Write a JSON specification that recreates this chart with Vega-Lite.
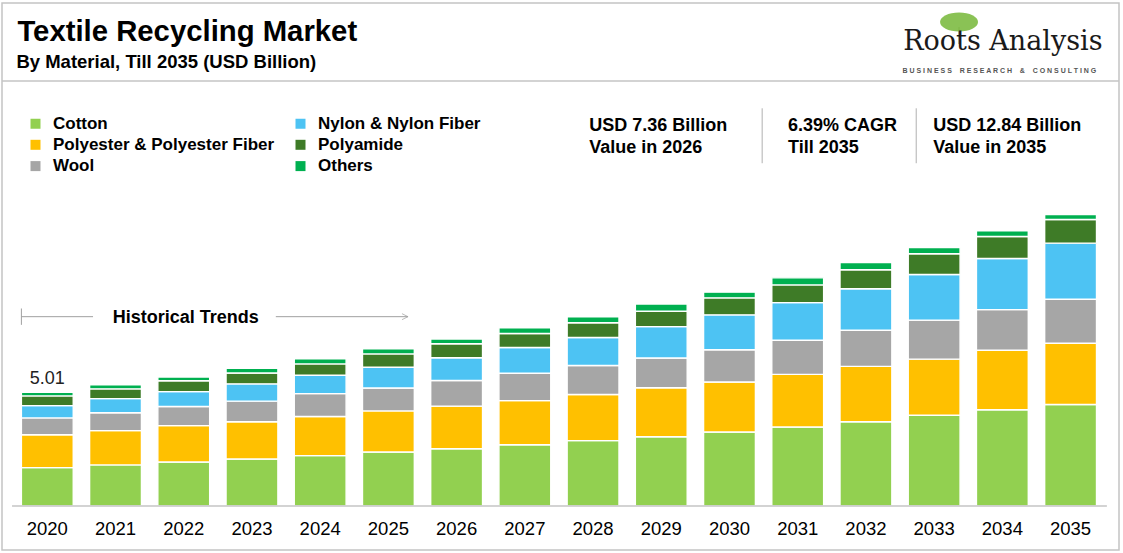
{
  "$schema": "https://vega.github.io/schema/vega-lite/v6.json",
  "width": 1117,
  "height": 547,
  "autosize": {"type": "none"},
  "padding": {"left": 2, "top": 3, "right": 4, "bottom": 3},
  "background": "white",
  "config": {
    "view": {"stroke": "#c4c4c4", "strokeWidth": 1.5},
    "font": "Liberation Sans",
    "text": {"font": "Liberation Sans", "color": "#000"}
  },
  "data": {
    "values": [
      {"year": "2020", "material": "Cotton", "k": 1, "value": 1.69},
      {"year": "2020", "material": "Polyester & Polyester Fiber", "k": 2, "value": 1.45},
      {"year": "2020", "material": "Wool", "k": 3, "value": 0.74},
      {"year": "2020", "material": "Nylon & Nylon Fiber", "k": 4, "value": 0.54},
      {"year": "2020", "material": "Polyamide", "k": 5, "value": 0.43},
      {"year": "2020", "material": "Others", "k": 6, "value": 0.16},
      {"year": "2021", "material": "Cotton", "k": 1, "value": 1.81},
      {"year": "2021", "material": "Polyester & Polyester Fiber", "k": 2, "value": 1.51},
      {"year": "2021", "material": "Wool", "k": 3, "value": 0.79},
      {"year": "2021", "material": "Nylon & Nylon Fiber", "k": 4, "value": 0.62},
      {"year": "2021", "material": "Polyamide", "k": 5, "value": 0.43},
      {"year": "2021", "material": "Others", "k": 6, "value": 0.18},
      {"year": "2022", "material": "Cotton", "k": 1, "value": 1.94},
      {"year": "2022", "material": "Polyester & Polyester Fiber", "k": 2, "value": 1.60},
      {"year": "2022", "material": "Wool", "k": 3, "value": 0.84},
      {"year": "2022", "material": "Nylon & Nylon Fiber", "k": 4, "value": 0.66},
      {"year": "2022", "material": "Polyamide", "k": 5, "value": 0.48},
      {"year": "2022", "material": "Others", "k": 6, "value": 0.16},
      {"year": "2023", "material": "Cotton", "k": 1, "value": 2.07},
      {"year": "2023", "material": "Polyester & Polyester Fiber", "k": 2, "value": 1.64},
      {"year": "2023", "material": "Wool", "k": 3, "value": 0.91},
      {"year": "2023", "material": "Nylon & Nylon Fiber", "k": 4, "value": 0.76},
      {"year": "2023", "material": "Polyamide", "k": 5, "value": 0.48},
      {"year": "2023", "material": "Others", "k": 6, "value": 0.21},
      {"year": "2024", "material": "Cotton", "k": 1, "value": 2.22},
      {"year": "2024", "material": "Polyester & Polyester Fiber", "k": 2, "value": 1.72},
      {"year": "2024", "material": "Wool", "k": 3, "value": 1.01},
      {"year": "2024", "material": "Nylon & Nylon Fiber", "k": 4, "value": 0.81},
      {"year": "2024", "material": "Polyamide", "k": 5, "value": 0.50},
      {"year": "2024", "material": "Others", "k": 6, "value": 0.22},
      {"year": "2025", "material": "Cotton", "k": 1, "value": 2.38},
      {"year": "2025", "material": "Polyester & Polyester Fiber", "k": 2, "value": 1.81},
      {"year": "2025", "material": "Wool", "k": 3, "value": 1.01},
      {"year": "2025", "material": "Nylon & Nylon Fiber", "k": 4, "value": 0.91},
      {"year": "2025", "material": "Polyamide", "k": 5, "value": 0.59},
      {"year": "2025", "material": "Others", "k": 6, "value": 0.22},
      {"year": "2026", "material": "Cotton", "k": 1, "value": 2.52},
      {"year": "2026", "material": "Polyester & Polyester Fiber", "k": 2, "value": 1.88},
      {"year": "2026", "material": "Wool", "k": 3, "value": 1.13},
      {"year": "2026", "material": "Nylon & Nylon Fiber", "k": 4, "value": 1.00},
      {"year": "2026", "material": "Polyamide", "k": 5, "value": 0.62},
      {"year": "2026", "material": "Others", "k": 6, "value": 0.21},
      {"year": "2027", "material": "Cotton", "k": 1, "value": 2.70},
      {"year": "2027", "material": "Polyester & Polyester Fiber", "k": 2, "value": 1.94},
      {"year": "2027", "material": "Wool", "k": 3, "value": 1.21},
      {"year": "2027", "material": "Nylon & Nylon Fiber", "k": 4, "value": 1.13},
      {"year": "2027", "material": "Polyamide", "k": 5, "value": 0.62},
      {"year": "2027", "material": "Others", "k": 6, "value": 0.25},
      {"year": "2028", "material": "Cotton", "k": 1, "value": 2.88},
      {"year": "2028", "material": "Polyester & Polyester Fiber", "k": 2, "value": 2.03},
      {"year": "2028", "material": "Wool", "k": 3, "value": 1.28},
      {"year": "2028", "material": "Nylon & Nylon Fiber", "k": 4, "value": 1.23},
      {"year": "2028", "material": "Polyamide", "k": 5, "value": 0.65},
      {"year": "2028", "material": "Others", "k": 6, "value": 0.26},
      {"year": "2029", "material": "Cotton", "k": 1, "value": 3.05},
      {"year": "2029", "material": "Polyester & Polyester Fiber", "k": 2, "value": 2.16},
      {"year": "2029", "material": "Wool", "k": 3, "value": 1.31},
      {"year": "2029", "material": "Nylon & Nylon Fiber", "k": 4, "value": 1.38},
      {"year": "2029", "material": "Polyamide", "k": 5, "value": 0.68},
      {"year": "2029", "material": "Others", "k": 6, "value": 0.32},
      {"year": "2030", "material": "Cotton", "k": 1, "value": 3.26},
      {"year": "2030", "material": "Polyester & Polyester Fiber", "k": 2, "value": 2.20},
      {"year": "2030", "material": "Wool", "k": 3, "value": 1.42},
      {"year": "2030", "material": "Nylon & Nylon Fiber", "k": 4, "value": 1.54},
      {"year": "2030", "material": "Polyamide", "k": 5, "value": 0.75},
      {"year": "2030", "material": "Others", "k": 6, "value": 0.25},
      {"year": "2031", "material": "Cotton", "k": 1, "value": 3.48},
      {"year": "2031", "material": "Polyester & Polyester Fiber", "k": 2, "value": 2.32},
      {"year": "2031", "material": "Wool", "k": 3, "value": 1.50},
      {"year": "2031", "material": "Nylon & Nylon Fiber", "k": 4, "value": 1.66},
      {"year": "2031", "material": "Polyamide", "k": 5, "value": 0.78},
      {"year": "2031", "material": "Others", "k": 6, "value": 0.31},
      {"year": "2032", "material": "Cotton", "k": 1, "value": 3.71},
      {"year": "2032", "material": "Polyester & Polyester Fiber", "k": 2, "value": 2.44},
      {"year": "2032", "material": "Wool", "k": 3, "value": 1.59},
      {"year": "2032", "material": "Nylon & Nylon Fiber", "k": 4, "value": 1.83},
      {"year": "2032", "material": "Polyamide", "k": 5, "value": 0.84},
      {"year": "2032", "material": "Others", "k": 6, "value": 0.31},
      {"year": "2033", "material": "Cotton", "k": 1, "value": 4.00},
      {"year": "2033", "material": "Polyester & Polyester Fiber", "k": 2, "value": 2.47},
      {"year": "2033", "material": "Wool", "k": 3, "value": 1.72},
      {"year": "2033", "material": "Nylon & Nylon Fiber", "k": 4, "value": 2.01},
      {"year": "2033", "material": "Polyamide", "k": 5, "value": 0.91},
      {"year": "2033", "material": "Others", "k": 6, "value": 0.28},
      {"year": "2034", "material": "Cotton", "k": 1, "value": 4.24},
      {"year": "2034", "material": "Polyester & Polyester Fiber", "k": 2, "value": 2.62},
      {"year": "2034", "material": "Wool", "k": 3, "value": 1.79},
      {"year": "2034", "material": "Nylon & Nylon Fiber", "k": 4, "value": 2.25},
      {"year": "2034", "material": "Polyamide", "k": 5, "value": 0.97},
      {"year": "2034", "material": "Others", "k": 6, "value": 0.25},
      {"year": "2035", "material": "Cotton", "k": 1, "value": 4.47},
      {"year": "2035", "material": "Polyester & Polyester Fiber", "k": 2, "value": 2.70},
      {"year": "2035", "material": "Wool", "k": 3, "value": 1.94},
      {"year": "2035", "material": "Nylon & Nylon Fiber", "k": 4, "value": 2.47},
      {"year": "2035", "material": "Polyamide", "k": 5, "value": 1.04},
      {"year": "2035", "material": "Others", "k": 6, "value": 0.22}
    ]
  },
  "layer": [
    {
      "mark": {"type": "bar", "stroke": "white", "strokeWidth": 1.4},
      "encoding": {
        "x": {
          "field": "year",
          "type": "ordinal",
          "scale": {
            "domain": ["2020", "2021", "2022", "2023", "2024", "2025", "2026", "2027", "2028", "2029", "2030", "2031", "2032", "2033", "2034", "2035"],
            "paddingInner": 0.24,
            "paddingOuter": 0.307,
            "align": 0.463
          },
          "axis": {
            "title": null,
            "orient": "bottom",
            "offset": -44,
            "domain": false,
            "ticks": false,
            "grid": false,
            "labelAngle": 0,
            "labelFont": "Liberation Sans",
            "labelFontSize": 18.5,
            "labelColor": "#000",
            "labelPadding": 13
          }
        },
        "y": {
          "field": "value",
          "type": "quantitative",
          "stack": "zero",
          "scale": {"domain": [-1.9383, 22.1586], "nice": false, "zero": false},
          "axis": null
        },
        "color": {
          "field": "material",
          "type": "nominal",
          "scale": {
            "domain": ["Cotton", "Polyester & Polyester Fiber", "Wool", "Nylon & Nylon Fiber", "Polyamide", "Others"],
            "range": ["#92D050", "#FFC000", "#A6A6A6", "#4DC3F3", "#3E7B27", "#00B050"]
          },
          "legend": {
            "title": null,
            "orient": "none",
            "legendX": 25,
            "legendY": 112,
            "columns": 2,
            "padding": 0,
            "symbolType": "square",
            "symbolSize": 100,
            "symbolStrokeWidth": 0,
            "labelFont": "Liberation Sans",
            "labelFontSize": 17,
            "labelFontWeight": "bold",
            "labelColor": "#000",
            "labelOffset": 9,
            "labelLimit": 400,
            "rowPadding": 3.3,
            "columnPadding": 17
          }
        },
        "order": {"field": "k", "type": "quantitative", "sort": "ascending"},
        "tooltip": [
          {"field": "year", "type": "ordinal", "title": "Year"},
          {"field": "material", "type": "nominal", "title": "Material"},
          {"field": "value", "type": "quantitative", "title": "USD Billion", "format": ".2f"}
        ]
      }
    },
    {
      "data": {"values": [{}]},
      "mark": {"type": "rule", "color": "#c4c4c4", "strokeWidth": 1.5},
      "encoding": {
        "x": {"datum": "2020", "type": "ordinal", "bandPosition": -0.18},
        "x2": {"datum": "2035", "bandPosition": 1.2},
        "y": {"datum": 0, "type": "quantitative"}
      }
    },
    {
      "data": {"values": [{}]},
      "mark": {"type": "rule", "color": "#c4c4c4", "strokeWidth": 1.5},
      "encoding": {"y": {"datum": 18.72, "type": "quantitative"}}
    },
    {
      "data": {"values": [{}]},
      "mark": {"type": "text", "text": "Textile Recycling Market", "align": "left", "baseline": "alphabetic", "fontSize": 29.3, "fontWeight": "bold", "dx": -4},
      "encoding": {
        "x": {"datum": "2020", "type": "ordinal", "bandPosition": 0},
        "y": {"datum": 20.5, "type": "quantitative"}
      }
    },
    {
      "data": {"values": [{}]},
      "mark": {"type": "text", "text": "By Material, Till 2035 (USD Billion)", "align": "left", "baseline": "alphabetic", "fontSize": 18.5, "fontWeight": "bold", "dx": -5},
      "encoding": {
        "x": {"datum": "2020", "type": "ordinal", "bandPosition": 0},
        "y": {"datum": 19.29, "type": "quantitative"}
      }
    },
    {
      "data": {"values": [{}]},
      "mark": {"type": "rule", "color": "#8a9a6a", "strokeWidth": 2, "opacity": 0.6},
      "encoding": {
        "x": {"datum": "2033", "type": "ordinal", "bandPosition": 0.98},
        "y": {"datum": 21.1, "type": "quantitative"},
        "y2": {"datum": 20.35}
      }
    },
    {
      "data": {"values": [{}]},
      "mark": {"type": "point", "shape": "M-1,0A1,0.5,0,1,1,1,0A1,0.5,0,1,1,-1,0Z", "size": 1444, "filled": true, "color": "#7dbb42", "opacity": 0.9},
      "encoding": {
        "x": {"datum": "2033", "type": "ordinal", "bandPosition": 0.98},
        "y": {"datum": 21.32, "type": "quantitative"}
      }
    },
    {
      "data": {"values": [{}]},
      "mark": {"type": "text", "text": "Roots Analysis", "align": "left", "baseline": "alphabetic", "font": "DejaVu Serif", "fontSize": 27, "color": "#1a1a1a", "dx": -5},
      "encoding": {
        "x": {"datum": "2033", "type": "ordinal", "bandPosition": 0},
        "y": {"datum": 20.09, "type": "quantitative"}
      }
    },
    {
      "data": {"values": [{}]},
      "mark": {"type": "text", "text": "B U S I N E S S\u00a0\u00a0\u00a0\u00a0R E S E A R C H\u00a0\u00a0\u00a0\u00a0&\u00a0\u00a0\u00a0\u00a0C O N S U L T I N G", "align": "center", "baseline": "alphabetic", "fontSize": 7, "fontWeight": "bold", "color": "#555", "dx": -3},
      "encoding": {
        "x": {"datum": "2034", "type": "ordinal"},
        "y": {"datum": 19.07, "type": "quantitative"}
      }
    },
    {
      "data": {"values": [{}]},
      "mark": {"type": "text", "text": ["USD 7.36 Billion", "Value in 2026"], "lineHeight": 22.3, "align": "left", "baseline": "alphabetic", "fontSize": 18, "fontWeight": "bold"},
      "encoding": {
        "x": {"datum": "2028", "type": "ordinal", "bandPosition": 0.426},
        "y": {"datum": 16.52, "type": "quantitative"}
      }
    },
    {
      "data": {"values": [{}]},
      "mark": {"type": "text", "text": ["6.39% CAGR", "Till 2035"], "lineHeight": 22.3, "align": "left", "baseline": "alphabetic", "fontSize": 18, "fontWeight": "bold"},
      "encoding": {
        "x": {"datum": "2031", "type": "ordinal", "bandPosition": 0.312},
        "y": {"datum": 16.52, "type": "quantitative"}
      }
    },
    {
      "data": {"values": [{}]},
      "mark": {"type": "text", "text": ["USD 12.84 Billion", "Value in 2035"], "lineHeight": 22.3, "align": "left", "baseline": "alphabetic", "fontSize": 18, "fontWeight": "bold"},
      "encoding": {
        "x": {"datum": "2033", "type": "ordinal", "bandPosition": 0.482},
        "y": {"datum": 16.52, "type": "quantitative"}
      }
    },
    {
      "data": {"values": [{}]},
      "mark": {"type": "rule", "color": "#b0b0b0", "strokeWidth": 1},
      "encoding": {
        "x": {"datum": "2030", "type": "ordinal", "bandPosition": 1.13},
        "y": {"datum": 17.52, "type": "quantitative"},
        "y2": {"datum": 15.1}
      }
    },
    {
      "data": {"values": [{}]},
      "mark": {"type": "rule", "color": "#b0b0b0", "strokeWidth": 1},
      "encoding": {
        "x": {"datum": "2033", "type": "ordinal", "bandPosition": 0.154},
        "y": {"datum": 17.52, "type": "quantitative"},
        "y2": {"datum": 15.1}
      }
    },
    {
      "data": {"values": [{}]},
      "mark": {"type": "text", "text": "Historical Trends", "align": "center", "baseline": "alphabetic", "fontSize": 18, "fontWeight": "bold", "dx": 2},
      "encoding": {
        "x": {"datum": "2022", "type": "ordinal"},
        "y": {"datum": 8.075, "type": "quantitative"}
      }
    },
    {
      "data": {"values": [{}]},
      "mark": {"type": "rule", "color": "#a0a0a0", "strokeWidth": 1},
      "encoding": {
        "x": {"datum": "2020", "type": "ordinal", "bandPosition": 0},
        "x2": {"datum": "2021", "bandPosition": 0.066},
        "y": {"datum": 8.34, "type": "quantitative"}
      }
    },
    {
      "data": {"values": [{}]},
      "mark": {"type": "rule", "color": "#a0a0a0", "strokeWidth": 1},
      "encoding": {
        "x": {"datum": "2020", "type": "ordinal", "bandPosition": 0},
        "y": {"datum": 8.7, "type": "quantitative"},
        "y2": {"datum": 7.98}
      }
    },
    {
      "data": {"values": [{}]},
      "mark": {"type": "rule", "color": "#a0a0a0", "strokeWidth": 1},
      "encoding": {
        "x": {"datum": "2023", "type": "ordinal", "bandPosition": 0.96},
        "x2": {"datum": "2025", "bandPosition": 0.88},
        "y": {"datum": 8.34, "type": "quantitative"}
      }
    },
    {
      "data": {"values": [{}]},
      "mark": {"type": "point", "shape": "M-1,-1L1,0L-1,1", "size": 36, "filled": false, "color": "#a0a0a0", "strokeWidth": 1},
      "encoding": {
        "x": {"datum": "2025", "type": "ordinal", "bandPosition": 0.82},
        "y": {"datum": 8.34, "type": "quantitative"}
      }
    },
    {
      "data": {"values": [{}]},
      "mark": {"type": "text", "text": "5.01", "align": "center", "baseline": "alphabetic", "fontSize": 18, "dy": -8, "color": "#222"},
      "encoding": {
        "x": {"datum": "2020", "type": "ordinal"},
        "y": {"datum": 5.01, "type": "quantitative"}
      }
    }
  ]
}
